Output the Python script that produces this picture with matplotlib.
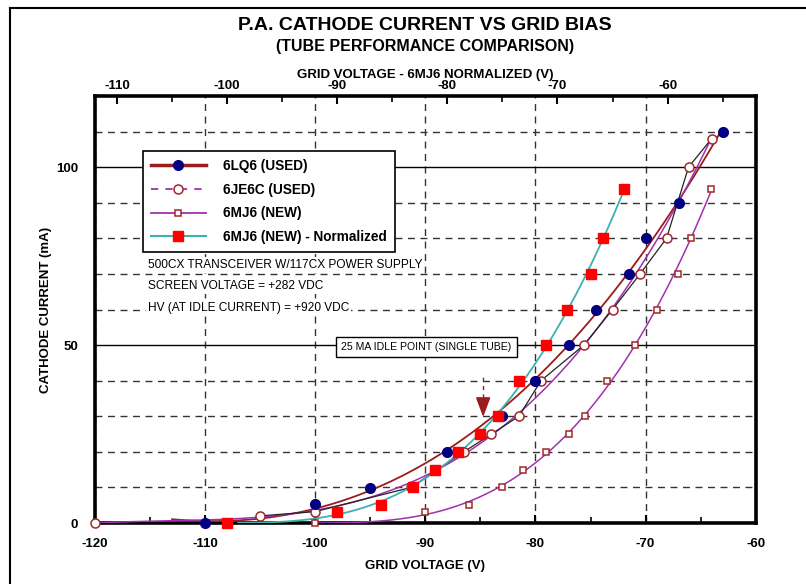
import numpy as np
import matplotlib
matplotlib.use("Agg")
import matplotlib.pyplot as plt
from matplotlib.lines import Line2D

# data (grid voltage V, cathode current mA)
lq6_v = [-110, -100, -95, -88, -83, -80, -77, -74.5, -71.5, -70, -67, -63]
lq6_i = [0, 5.3, 9.8, 20, 30, 40, 50, 60, 70, 80, 90, 110]

je6c_v = [-120, -105, -100, -91.3, -86.5, -84, -81.5, -79.5, -75.6, -73, -70.5, -68.1, -66.1, -64]
je6c_i = [0, 2, 3.2, 10, 20, 25, 30, 40, 50, 60, 70, 80, 100, 108]

mj6_v = [-100, -90, -86, -83, -81.1, -79, -77, -75.5, -73.5, -71, -69, -67.1, -65.9, -64.1]
mj6_i = [0, 3, 5, 10, 15, 20, 25, 30, 40, 50, 60, 70, 80, 94]

mj6n_v = [-108, -98, -94, -91.1, -89.1, -87, -85, -83.4, -81.5, -79, -77.1, -75, -73.9, -72]
mj6n_i = [0, 3.2, 5, 10, 15, 20, 25, 30, 40, 50, 60, 70, 80, 94]

# where each trend line starts
fit_start = {'lq6': -113, 'je6c': -120, 'mj6': -100, 'mj6n': -107}

norm_offset = 8          # top axis = bottom axis + 8 V
idle_v, idle_i = -84.75, 25

notes = ["500CX TRANSCEIVER W/117CX POWER SUPPLY",
         "SCREEN VOLTAGE = +282 VDC",
         "HV (AT IDLE CURRENT) = +920 VDC"]

plt.rcParams['font.family'] = ['Liberation Sans', 'DejaVu Sans']
plt.rcParams['axes.unicode_minus'] = False

c_lq6 = '#9b1c1c'
c_blue = '#000080'
c_open = '#a0282a'
c_purple = '#a030b0'
c_teal = '#3fb0b0'
c_red = '#ff0000'

fig = plt.figure(figsize=(8.06, 5.84), dpi=100)
ax = fig.add_axes([95 / 806, 61 / 584, 660.7 / 806, 427 / 584])

# outer frame (top and left edge only visible)
fig.add_artist(Line2D([10 / 806, 1], [1 - 8 / 584, 1 - 8 / 584], color='black', lw=1.5,
                      transform=fig.transFigure))
fig.add_artist(Line2D([10 / 806, 10 / 806], [0, 1 - 8 / 584], color='black', lw=1.5,
                      transform=fig.transFigure))

ax.set_xlim(-120, -60)
ax.set_ylim(0, 120)
ax.set_xticks(np.arange(-120, -59, 10))
ax.set_xticks(np.arange(-115, -60, 10), minor=True)
ax.set_yticks([0, 50, 100])
ax.set_yticks(np.arange(10, 120, 10), minor=True)

grid_dash = dict(color='#333333', lw=1.0, linestyle=(0, (5, 4)))
ax.xaxis.grid(True, which='major', **grid_dash)
ax.yaxis.grid(True, which='minor', **grid_dash)
ax.yaxis.grid(True, which='major', color='black', lw=1.0)
ax.set_axisbelow(True)

for s in ax.spines.values():
    s.set_linewidth(2.6)

ax.tick_params(axis='x', which='major', direction='in', length=6, width=1.5,
               labelsize=9.5, pad=11)
ax.tick_params(axis='x', which='minor', direction='in', length=4, width=1.2)
ax.tick_params(axis='y', which='both', length=0, labelsize=9.5, pad=12)
for lab in ax.get_xticklabels() + ax.get_yticklabels():
    lab.set_fontweight('bold')

ax.set_xlabel("GRID VOLTAGE (V)", fontsize=9.5, fontweight='bold', labelpad=7)
ax.set_ylabel("CATHODE CURRENT (mA)", fontsize=9.5, fontweight='bold', labelpad=3)

top = ax.secondary_xaxis('top', functions=(lambda x: x + norm_offset,
                                           lambda x: x - norm_offset))
top.set_xticks(np.arange(-110, -59, 10))
top.set_xticks(np.arange(-105, -50, 10), minor=True)
top.tick_params(axis='x', which='major', direction='in', length=6, width=1.5,
                labelsize=9.5, pad=3)
top.tick_params(axis='x', which='minor', direction='in', length=4, width=1.2)
for lab in top.get_xticklabels():
    lab.set_fontweight('bold')
top.spines['top'].set_visible(False)
top.set_xlabel("GRID VOLTAGE - 6MJ6 NORMALIZED (V)", fontsize=9.5,
               fontweight='bold', labelpad=1)

fig.text(0.527, 1 - 25 / 584, "P.A. CATHODE CURRENT VS GRID BIAS", ha='center',
         va='center', fontsize=14, fontweight='bold')
fig.text(0.527, 1 - 47 / 584, "(TUBE PERFORMANCE COMPARISON)", ha='center',
         va='center', fontsize=11.5, fontweight='bold')


def trend(key, vs, cs):
    p = np.polyfit(vs, cs, 3)
    xx = np.linspace(fit_start[key], max(vs), 200)
    return xx, np.polyval(p, xx)


# trend lines
xx, yy = trend('lq6', lq6_v, lq6_i)
ax.plot(xx, yy, color=c_lq6, lw=1.3, zorder=3)
xx, yy = trend('je6c', je6c_v, je6c_i)
ax.plot(xx, yy, color=c_purple, lw=1.1, zorder=3)
ax.plot(je6c_v[1:], je6c_i[1:], color='#222222', lw=0.9, zorder=3)
xx, yy = trend('mj6', mj6_v, mj6_i)
ax.plot(xx, yy, color=c_purple, lw=1.1, zorder=3)
xx, yy = trend('mj6n', mj6n_v, mj6n_i)
ax.plot(xx, yy, color=c_teal, lw=1.3, zorder=3)

# markers
ax.plot(je6c_v, je6c_i, 'o', ms=6.5, mfc='white', mec=c_open, mew=1.1, zorder=5, clip_on=False)
ax.plot(mj6_v, mj6_i, 's', ms=5, mfc='white', mec=c_open, mew=1.1, zorder=5, clip_on=False)
ax.plot(lq6_v, lq6_i, 'o', ms=7, color=c_blue, zorder=6, clip_on=False)
ax.plot(mj6n_v, mj6n_i, 's', ms=6.5, color=c_red, zorder=7, clip_on=False)

# idle point arrow
ax.plot([idle_v, idle_v], [idle_i + 10, idle_i + 16.5], color=c_lq6, lw=1,
        linestyle=(0, (3, 3)), zorder=8)
ax.annotate("", xy=(idle_v, idle_i + 4), xytext=(idle_v, idle_i + 10),
            arrowprops=dict(arrowstyle='-|>,head_width=0.45,head_length=1.2',
                            color=c_lq6, lw=1.2), zorder=8)

ax.text(-89.9, 49.5, "25 MA IDLE POINT (SINGLE TUBE)", ha='center', va='center',
        fontsize=7.6, zorder=9,
        bbox=dict(boxstyle='square,pad=0.5', fc='white', ec='black', lw=1))

for k, t in enumerate(notes):
    ax.text(-115.2, 72.5 - k * 6, t, ha='left', va='center', fontsize=8.6, zorder=4,
            bbox=dict(boxstyle='square,pad=0.15', fc='white', ec='none'))

handles = [
    Line2D([], [], color=c_lq6, lw=2.5, marker='o', ms=7, mfc=c_blue, mec=c_blue),
    Line2D([], [], color=c_purple, lw=1.3, linestyle=(0, (4, 4)), marker='o', ms=6.5,
           mfc='white', mec=c_open, mew=1.1),
    Line2D([], [], color=c_purple, lw=1.3, marker='s', ms=5, mfc='white', mec=c_open,
           mew=1.1),
    Line2D([], [], color=c_teal, lw=1.5, marker='s', ms=6.5, mfc=c_red, mec=c_red),
]
labels = ["6LQ6 (USED)", "6JE6C (USED)", "6MJ6 (NEW)", "6MJ6 (NEW) - Normalized"]
leg = ax.legend(handles, labels, loc='upper left', bbox_to_anchor=(0.0727, 0.871),
                prop={'weight': 'bold', 'size': 9.8}, frameon=True, fancybox=False,
                edgecolor='black', framealpha=1, handlelength=4.0, handletextpad=1.3,
                labelspacing=0.7, borderpad=0.6, borderaxespad=0)
leg.get_frame().set_linewidth(1.2)
leg.set_zorder(10)

fig.savefig("out.png", dpi=100)
